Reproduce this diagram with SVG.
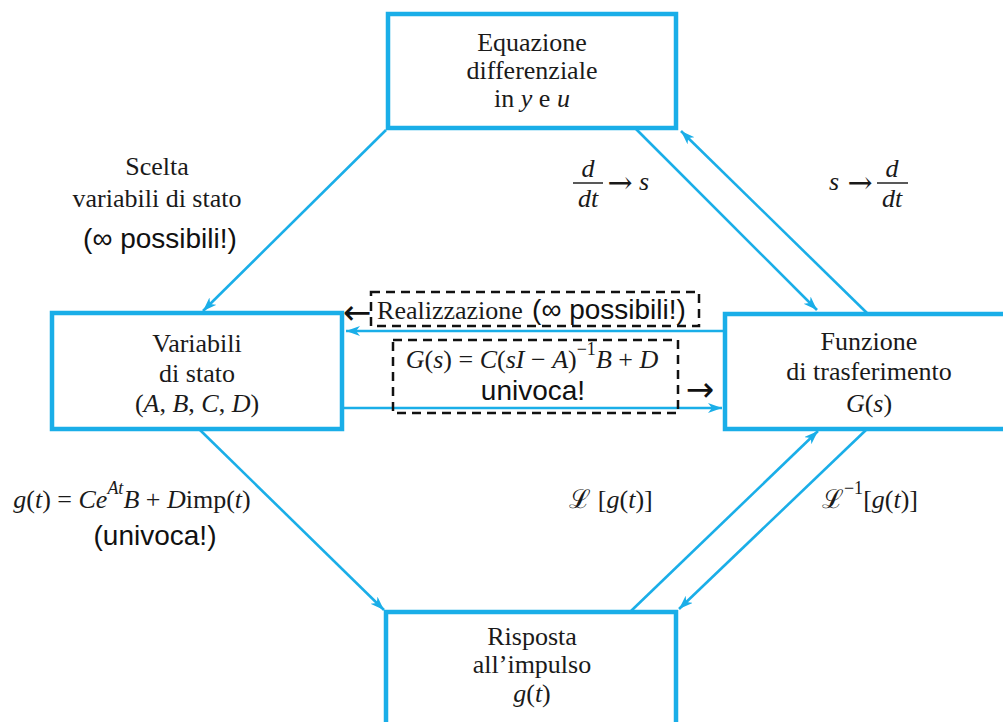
<svg xmlns="http://www.w3.org/2000/svg" width="1003" height="722" viewBox="0 0 1003 722">
<defs>
<style>
.box{fill:#fff;stroke:#1aaee8;stroke-width:4.5}
.con{fill:none;stroke:#1aaee8;stroke-width:2.6}
.t{font-family:"Liberation Serif","DejaVu Serif",serif;font-size:26px;fill:#1a1a1a;text-anchor:middle}
.ts{font-family:"Liberation Sans",Arial,sans-serif;font-size:28px;fill:#111;text-anchor:middle}
.ar{font-family:"DejaVu Sans",sans-serif;font-size:34px;fill:#111;text-anchor:middle}
.ma{font-family:"DejaVu Serif",serif;font-size:30px;fill:#1a1a1a;text-anchor:middle}
.i{font-style:italic}
.dash{fill:none;stroke:#111;stroke-width:2.5;stroke-dasharray:9 6}
</style>
<marker id="ah" markerUnits="userSpaceOnUse" markerWidth="16" markerHeight="12" refX="14" refY="5" orient="auto">
<path d="M0,0 L14,5 L0,10 L4,5 z" fill="#1aaee8"/>
</marker>
</defs>
<rect width="1003" height="722" fill="#fff"/>

<g id="connectors">
<line class="con" x1="386" y1="130" x2="203" y2="311" marker-end="url(#ah)"/>
<line class="con" x1="636" y1="129" x2="817" y2="310" marker-end="url(#ah)"/>
<line class="con" x1="868" y1="314" x2="681" y2="131" marker-end="url(#ah)"/>
<line class="con" x1="725" y1="331" x2="346" y2="331" marker-end="url(#ah)"/>
<line class="con" x1="342" y1="408" x2="722" y2="408" marker-end="url(#ah)"/>
<line class="con" x1="200" y1="430" x2="384" y2="610" marker-end="url(#ah)"/>
<line class="con" x1="631" y1="611" x2="818" y2="431" marker-end="url(#ah)"/>
<line class="con" x1="866" y1="430" x2="679" y2="609" marker-end="url(#ah)"/>
</g>

<g id="node-equazione">
<rect class="box" x="388" y="14" width="288" height="114"/>
<text class="t" x="532" y="51">Equazione</text>
<text class="t" x="532" y="79">differenziale</text>
<text class="t" x="532" y="107">in <tspan class="i">y</tspan> e <tspan class="i">u</tspan></text>
</g>

<g id="node-variabili">
<rect class="box" x="52" y="313" width="290" height="116"/>
<text class="t" x="197" y="352">Variabili</text>
<text class="t" x="197" y="382">di stato</text>
<text class="t" x="197" y="412">(<tspan class="i">A</tspan>, <tspan class="i">B</tspan>, <tspan class="i">C</tspan>, <tspan class="i">D</tspan>)</text>
</g>

<g id="node-funzione">
<rect class="box" x="725" y="314" width="290" height="115"/>
<text class="t" x="869" y="350">Funzione</text>
<text class="t" x="869" y="380">di trasferimento</text>
<text class="t" x="869" y="412"><tspan class="i">G</tspan>(<tspan class="i">s</tspan>)</text>
</g>

<g id="node-risposta">
<rect class="box" x="386" y="612" width="290" height="120"/>
<text class="t" x="532" y="645">Risposta</text>
<text class="t" x="532" y="673">all’impulso</text>
<text class="t" x="532" y="702"><tspan class="i">g</tspan>(<tspan class="i">t</tspan>)</text>
</g>

<g id="labels">
<text class="t" x="157" y="175">Scelta</text>
<text class="t" x="157" y="207">variabili di stato</text>
<text class="ts" x="160" y="248">(∞ possibili!)</text>

<text class="t i" x="588" y="177">d</text>
<line x1="573" y1="183" x2="603" y2="183" stroke="#222" stroke-width="1.5"/>
<text class="t i" x="588" y="207">dt</text>
<text class="ma" x="620" y="193">→</text>
<text class="t i" x="644" y="190">s</text>

<text class="t i" x="834" y="190">s</text>
<text class="ma" x="860" y="193">→</text>
<text class="t i" x="892" y="177">d</text>
<line x1="877" y1="183" x2="908" y2="183" stroke="#222" stroke-width="1.5"/>
<text class="t i" x="892" y="207">dt</text>

<rect class="dash" x="371" y="292" width="328" height="34"/>
<text class="ar" x="357" y="324">←</text>
<text class="t" x="450" y="319">Realizzazione</text>
<text class="ts" x="609" y="319">(∞ possibili!)</text>

<rect class="dash" x="393" y="340" width="285" height="73"/>
<text class="t" x="532" y="368"><tspan class="i">G</tspan>(<tspan class="i">s</tspan>) = <tspan class="i">C</tspan>(<tspan class="i">sI</tspan> − <tspan class="i">A</tspan>)<tspan dy="-13" font-size="18">−1</tspan><tspan dy="13" class="i">B</tspan> + <tspan class="i">D</tspan></text>
<text class="ts" x="533" y="400">univoca!</text>
<text class="ar" x="700" y="401">→</text>

<text class="t" x="132" y="508"><tspan class="i">g</tspan>(<tspan class="i">t</tspan>) = <tspan class="i">Ce</tspan><tspan dy="-14" font-size="18" class="i">At</tspan><tspan dy="14" class="i">B</tspan> + <tspan class="i">D</tspan>imp(<tspan class="i">t</tspan>)</text>
<text class="ts" x="155" y="545">(univoca!)</text>

<text class="t" x="611" y="508">ℒ [<tspan class="i">g</tspan>(<tspan class="i">t</tspan>)]</text>
<text class="t" x="870" y="508">ℒ<tspan dy="-14" font-size="18">−1</tspan><tspan dy="14">[</tspan><tspan class="i">g</tspan>(<tspan class="i">t</tspan>)]</text>
</g>
</svg>
